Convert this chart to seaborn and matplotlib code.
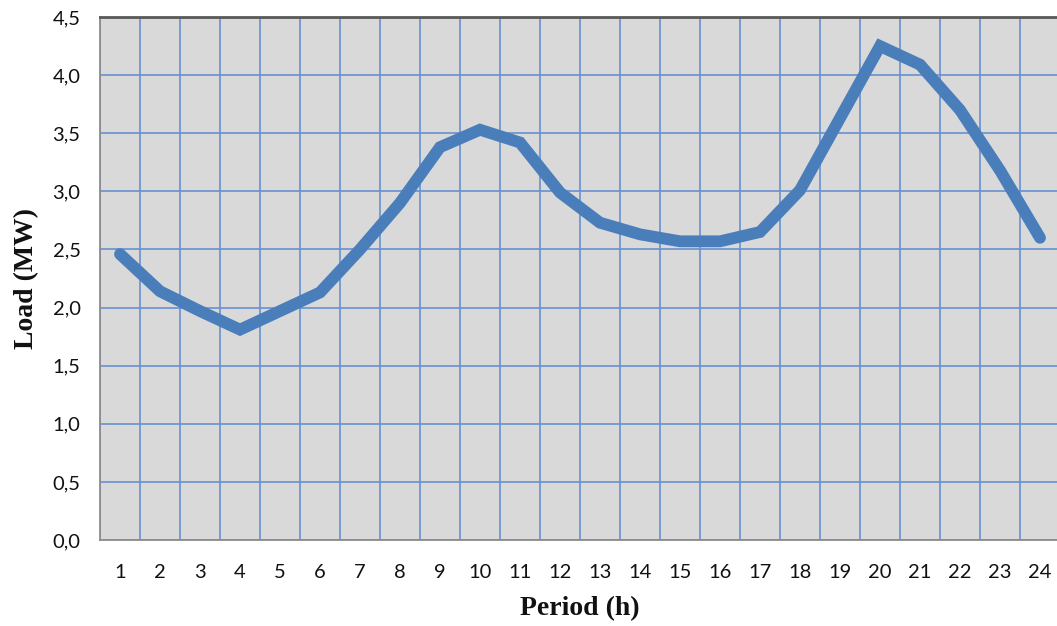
import matplotlib
matplotlib.use("Agg")
import matplotlib.pyplot as plt
import seaborn as sns
import pandas as pd

# Hourly load profile
periods = list(range(1, 25))
load_mw = [2.46, 2.14, 1.97, 1.81, 1.97, 2.13, 2.50, 2.90, 3.38, 3.53, 3.42, 2.99,
           2.73, 2.63, 2.57, 2.57, 2.65, 3.01, 3.63, 4.25, 4.09, 3.70, 3.18, 2.60]
y_ticks = [0.0, 0.5, 1.0, 1.5, 2.0, 2.5, 3.0, 3.5, 4.0, 4.5]
y_tick_labels = ["0,0", "0,5", "1,0", "1,5", "2,0", "2,5", "3,0", "3,5", "4,0", "4,5"]
x_tick_labels = [str(p) for p in periods]

df = pd.DataFrame({"Period": periods, "Load": load_mw})

sns.set_theme(style="white")
plt.rcParams["font.family"] = ["Lato", "DejaVu Sans"]

fig = plt.figure(figsize=(10.57, 6.26), dpi=100)
ax = fig.add_axes([100 / 1057, 86 / 626, 960 / 1057, 523 / 626])
ax.set_facecolor("#D9D9D9")

sns.lineplot(data=df, x="Period", y="Load", ax=ax, color="#4A7EBB",
             linewidth=8.5, solid_capstyle="round", solid_joinstyle="miter", zorder=3)

ax.set_xlim(0.5, 24.5)
ax.set_ylim(0, 4.5)

# category labels at centres, tick marks and grid at category boundaries
ax.set_xticks(periods)
ax.set_xticklabels(x_tick_labels)
ax.set_xticks([p + 0.5 for p in [0] + periods], minor=True)
ax.tick_params(axis="x", which="major", length=0, pad=17, labelsize=14.5, labelcolor="#111111")
ax.tick_params(axis="x", which="minor", length=7, width=1.2, color="#8C8C8C", direction="out")
ax.set_yticks(y_ticks)
ax.set_yticklabels(y_tick_labels)
ax.tick_params(axis="y", length=7, width=1.2, color="#8C8C8C", direction="out",
               pad=7, labelsize=14.5, labelcolor="#111111")

ax.grid(False)
ax.grid(True, axis="x", which="minor", color="#6690D0", linewidth=1.2, zorder=1)
ax.grid(True, axis="y", which="major", color="#6690D0", linewidth=1.2, zorder=1)
ax.set_axisbelow(True)

for side in ["left", "bottom"]:
    ax.spines[side].set_color("#8C8C8C")
    ax.spines[side].set_linewidth(1.3)
ax.spines["top"].set_color("#595959")
ax.spines["top"].set_linewidth(2)
ax.spines["right"].set_visible(False)

ax.set_xlabel("Period (h)", family="Liberation Serif", fontweight="bold",
              fontsize=20, color="#111111", labelpad=11)
ax.set_ylabel("Load (MW)", family="Liberation Serif", fontweight="bold",
              fontsize=20, color="#111111", labelpad=10)

fig.savefig("out.png", dpi=100)
